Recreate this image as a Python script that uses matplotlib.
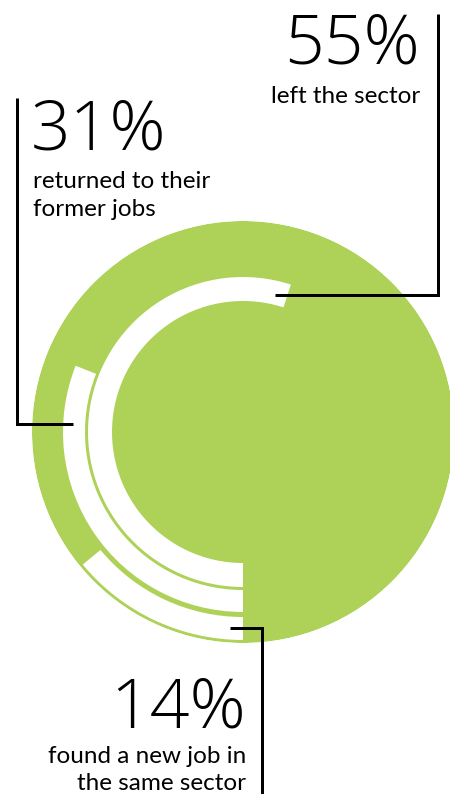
import numpy as np
import matplotlib
matplotlib.use("Agg")
import matplotlib.pyplot as plt

# ---- data ----
categories = [["left the sector"],
              ["returned to their", "former jobs"],
              ["found a new job in", "the same sector"]]
values = [55, 31, 14]
value_labels = ["55%", "31%", "14%"]

# ---- style ----
GREEN = "#AED158"
W, H, DPI = 450, 794, 100
CX, CY, R = 243, 432, 211           # centre / radius in pixels
bands = [(131, 155), (158, 180), (185, 208)]  # inner -> outer (55, 31, 14)

plt.rcParams['font.family'] = ['Lato', 'DejaVu Sans']

fig = plt.figure(figsize=(W / DPI, H / DPI), dpi=DPI)
fig.patch.set_facecolor("white")

ax = fig.add_axes([(CX - R) / W, (H - (CY + R)) / H, 2 * R / W, 2 * R / H], projection="polar")
ax.set_theta_zero_location("S")
ax.set_theta_direction(-1)
ax.set_ylim(0, R)
ax.axis("off")

# green disc
ax.bar(0, R, width=2 * np.pi, bottom=0, align="edge", color=GREEN, linewidth=0)
# white radial bars, starting at 6 o'clock going clockwise
for v, (r0, r1) in zip(values, bands):
    ax.bar(0, r1 - r0, width=2 * np.pi * v / 100, bottom=r0, align="edge",
           color="white", linewidth=0)

# overlay in pixel coordinates
ov = fig.add_axes([0, 0, 1, 1])
ov.set_xlim(0, W)
ov.set_ylim(H, 0)
ov.axis("off")
ov.patch.set_alpha(0)

lw = 3 * 72 / DPI
kw = dict(color="black", lw=lw, solid_joinstyle="miter", solid_capstyle="butt")
ov.plot([275, 438, 438], [295, 295, 14], **kw)
ov.plot([73, 17, 17], [424, 424, 98], **kw)
ov.plot([230, 262, 262], [628, 628, 800], **kw)

big = 50
small = 17.5
BIGFONT = ['Open Sans', 'DejaVu Sans']
big_kw = dict(fontsize=big, fontweight=300, family=BIGFONT, va="baseline", color="black")
small_kw = dict(fontsize=small, va="baseline", color="black")

# 55%
ov.text(420, 63, value_labels[0], ha="right", **big_kw)
ov.text(420, 103, categories[0][0], ha="right", **small_kw)
# 31%
ov.text(31, 150, value_labels[1], ha="left", **big_kw)
for i, line in enumerate(categories[1]):
    ov.text(33, 188 + 28 * i, line, ha="left", **small_kw)
# 14%
ov.text(246, 727, value_labels[2], ha="right", **big_kw)
for i, line in enumerate(categories[2]):
    ov.text(246, 763 + 27 * i, line, ha="right", **small_kw)

fig.savefig("out.png", dpi=DPI, facecolor="white")
